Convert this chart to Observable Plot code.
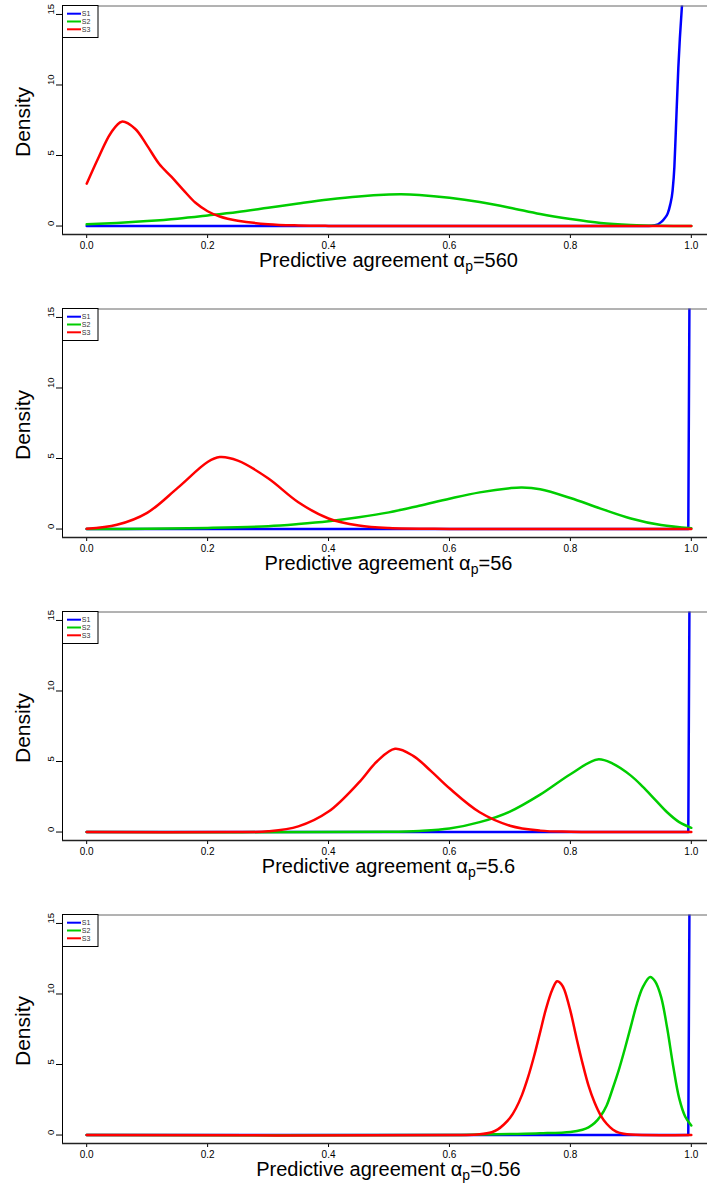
<!DOCTYPE html>
<html><head><meta charset="utf-8">
<script src="https://cdn.jsdelivr.net/npm/d3@7"></script>
<script src="https://cdn.jsdelivr.net/npm/@observablehq/plot@0.6"></script>
<style>
html,body{margin:0;padding:0;background:#fff;overflow:hidden;}
.panel{width:707px;overflow:hidden;position:relative;}
.panel svg{max-width:none !important;}
</style></head><body><div id="chart"></div>
<script>
const seriesNames = ["S1","S2","S3"];
const seriesColors = ["#0000FF","#00CD00","#FF0000"];
const alphaValues = ["560","56","5.6","0.56"];
const xTicks = [0,0.2,0.4,0.6,0.8,1.0];
const yTicks = [0,5,10,15];
const xDomain = [-0.04, 1.04];
const yDomain = [-0.6, 15.6];

// alpha_p = 560
const a560_S1 = [[0,0],[0.5,0],[0.93,0],[0.94,0.05],[0.95,0.28],[0.955,0.5],[0.961,0.9],[0.965,1.5],[0.969,2.5],[0.972,4.2],[0.974,6.3],[0.9785,11.2],[0.9845,15.6],[0.987,17]];
const a560_S2 = [[0,0.12],[0.05,0.22],[0.1,0.35],[0.15,0.52],[0.2,0.75],[0.25,1.0],[0.3,1.3],[0.35,1.6],[0.4,1.88],[0.45,2.1],[0.5,2.23],[0.52,2.25],[0.55,2.2],[0.6,2.0],[0.65,1.7],[0.7,1.3],[0.75,0.85],[0.8,0.5],[0.85,0.22],[0.9,0.08],[0.95,0.02],[1.0,0]];
const a560_S3 = [[0,3.0],[0.02,4.9],[0.04,6.6],[0.058,7.4],[0.08,6.9],[0.1,5.7],[0.12,4.4],[0.14,3.5],[0.16,2.55],[0.18,1.65],[0.2,1.05],[0.22,0.68],[0.25,0.38],[0.3,0.13],[0.35,0.04],[0.4,0.01],[0.5,0],[1.0,0]];

// alpha_p = 56
const a56_S1 = [[0,0],[0.995,0],[0.997,17]];
const a56_S2 = [[0,0],[0.1,0.02],[0.2,0.08],[0.3,0.2],[0.35,0.35],[0.4,0.55],[0.45,0.83],[0.5,1.18],[0.55,1.65],[0.6,2.15],[0.65,2.6],[0.7,2.9],[0.72,2.95],[0.75,2.82],[0.8,2.2],[0.85,1.45],[0.9,0.75],[0.95,0.28],[1.0,0.05]];
const a56_S3 = [[0,0.02],[0.05,0.3],[0.1,1.15],[0.15,2.9],[0.2,4.75],[0.22,5.1],[0.25,4.85],[0.3,3.6],[0.35,1.9],[0.4,0.75],[0.45,0.25],[0.5,0.07],[0.6,0.01],[0.7,0],[1.0,0]];

// alpha_p = 5.6
const a5_6_S1 = [[0,0],[0.995,0],[0.997,17]];
const a5_6_S2 = [[0,0],[0.5,0.02],[0.55,0.08],[0.6,0.25],[0.65,0.7],[0.7,1.45],[0.75,2.65],[0.8,4.1],[0.845,5.15],[0.87,4.85],[0.9,4.0],[0.92,3.2],[0.94,2.3],[0.96,1.4],[0.98,0.7],[1.0,0.3]];
const a5_6_S3 = [[0,0],[0.25,0],[0.3,0.05],[0.35,0.4],[0.4,1.45],[0.45,3.5],[0.48,5.0],[0.51,5.9],[0.54,5.4],[0.57,4.3],[0.6,3.1],[0.65,1.4],[0.7,0.45],[0.75,0.1],[0.8,0.02],[1.0,0]];

// alpha_p = 0.56
const a0_56_S1 = [[0,0],[0.995,0],[0.997,17]];
const a0_56_S2 = [[0,0],[0.6,0],[0.65,0.03],[0.7,0.07],[0.75,0.12],[0.8,0.22],[0.82,0.38],[0.83,0.55],[0.84,0.85],[0.85,1.35],[0.86,2.1],[0.87,3.3],[0.88,4.6],[0.89,6.1],[0.9,7.7],[0.91,9.3],[0.92,10.5],[0.932,11.2],[0.94,10.9],[0.95,9.8],[0.96,7.6],[0.97,4.9],[0.98,2.6],[0.99,1.3],[1.0,0.68]];
const a0_56_S3 = [[0,0],[0.62,0],[0.65,0.05],[0.67,0.2],[0.68,0.4],[0.69,0.75],[0.7,1.2],[0.71,1.9],[0.72,2.85],[0.73,4.1],[0.74,5.6],[0.75,7.3],[0.76,9.0],[0.77,10.3],[0.778,10.9],[0.785,10.7],[0.79,10.3],[0.8,8.8],[0.81,6.9],[0.82,5.1],[0.83,3.5],[0.84,2.3],[0.85,1.4],[0.86,0.8],[0.87,0.4],[0.88,0.17],[0.9,0.03],[1.0,0]];

const panels = [
  [a560_S1, a560_S2, a560_S3],
  [a56_S1, a56_S2, a56_S3],
  [a5_6_S1, a5_6_S2, a5_6_S3],
  [a0_56_S1, a0_56_S2, a0_56_S3]
];

const FONT = "'Liberation Sans', Arimo, Arial, Helvetica, sans-serif";
const W = 715, ML = 62, MT = 5.5, FRAME_BOTTOM = 234;

panels.forEach((curves, i) => {
  const H = i < 3 ? 303 : 276;
  const lineMarks = curves.map((c, k) => Plot.line(
    c.map(([x, y]) => ({x, y, s: seriesNames[k]})),
    {x: "x", y: "y", stroke: "s", strokeWidth: 2.5, clip: true,
     curve: k === 0 ? "monotone-x" : "catmull-rom"}
  ));
  const plot = Plot.plot({
    width: W, height: H,
    marginLeft: ML, marginRight: 0, marginTop: MT, marginBottom: H - FRAME_BOTTOM,
    style: {fontFamily: FONT, fontSize: "10px", background: "white", color: "black", maxWidth: "none"},
    x: {domain: xDomain, ticks: xTicks, tickFormat: ".1f", tickSize: 4, tickPadding: 3, label: null},
    y: {domain: yDomain, ticks: yTicks, tickFormat: () => "", tickSize: 6, label: null},
    color: {domain: seriesNames, range: seriesColors},
    marks: [
      ...lineMarks,
      Plot.ruleX([xDomain[0]], {stroke: "black", strokeWidth: 1}),
      Plot.ruleY([yDomain[0]], {stroke: "#222", strokeWidth: 1.3}),
      Plot.ruleY([yDomain[1]], {stroke: "#666", strokeWidth: 1}),
      Plot.text(yTicks, {y: d => d, frameAnchor: "left", dx: -12, rotate: -90, text: d => String(d), fontSize: 9.5})
    ]
  });
  plot.style.maxWidth = "none";
  const svg = d3.select(plot);
  const xl = svg.append("text")
    .attr("x", (ML + W) / 2).attr("y", 267)
    .attr("text-anchor", "middle").attr("font-family", FONT).attr("font-size", 20).attr("fill", "black");
  xl.append("tspan").text("Predictive agreement \u03b1");
  xl.append("tspan").attr("font-size", 14).attr("dy", 4).text("p");
  xl.append("tspan").attr("font-size", 20).attr("dy", -4).text("=" + alphaValues[i]);
  svg.append("text")
    .attr("transform", "translate(30,122) rotate(-90)")
    .attr("text-anchor", "middle").attr("font-family", FONT).attr("font-size", 21).attr("fill", "black")
    .text("Density");
  const lg = svg.append("g");
  lg.append("rect").attr("x", ML + 0.5).attr("y", MT).attr("width", 35.5).attr("height", 32)
    .attr("fill", "white").attr("stroke", "black").attr("stroke-width", 1);
  seriesNames.forEach((name, k) => {
    const yy = MT + 8.2 + k * 7.8;
    lg.append("line").attr("x1", ML + 5).attr("x2", ML + 19).attr("y1", yy).attr("y2", yy)
      .attr("stroke", seriesColors[k]).attr("stroke-width", 2);
    lg.append("text").attr("x", ML + 24).attr("y", yy + 2.5)
      .attr("font-family", FONT).attr("font-size", 7).attr("fill", "#333").text(name);
  });
  const div = document.createElement("div");
  div.className = "panel";
  div.style.height = H + "px";
  div.appendChild(plot);
  document.getElementById("chart").appendChild(div);
});
</script>
</body></html>
